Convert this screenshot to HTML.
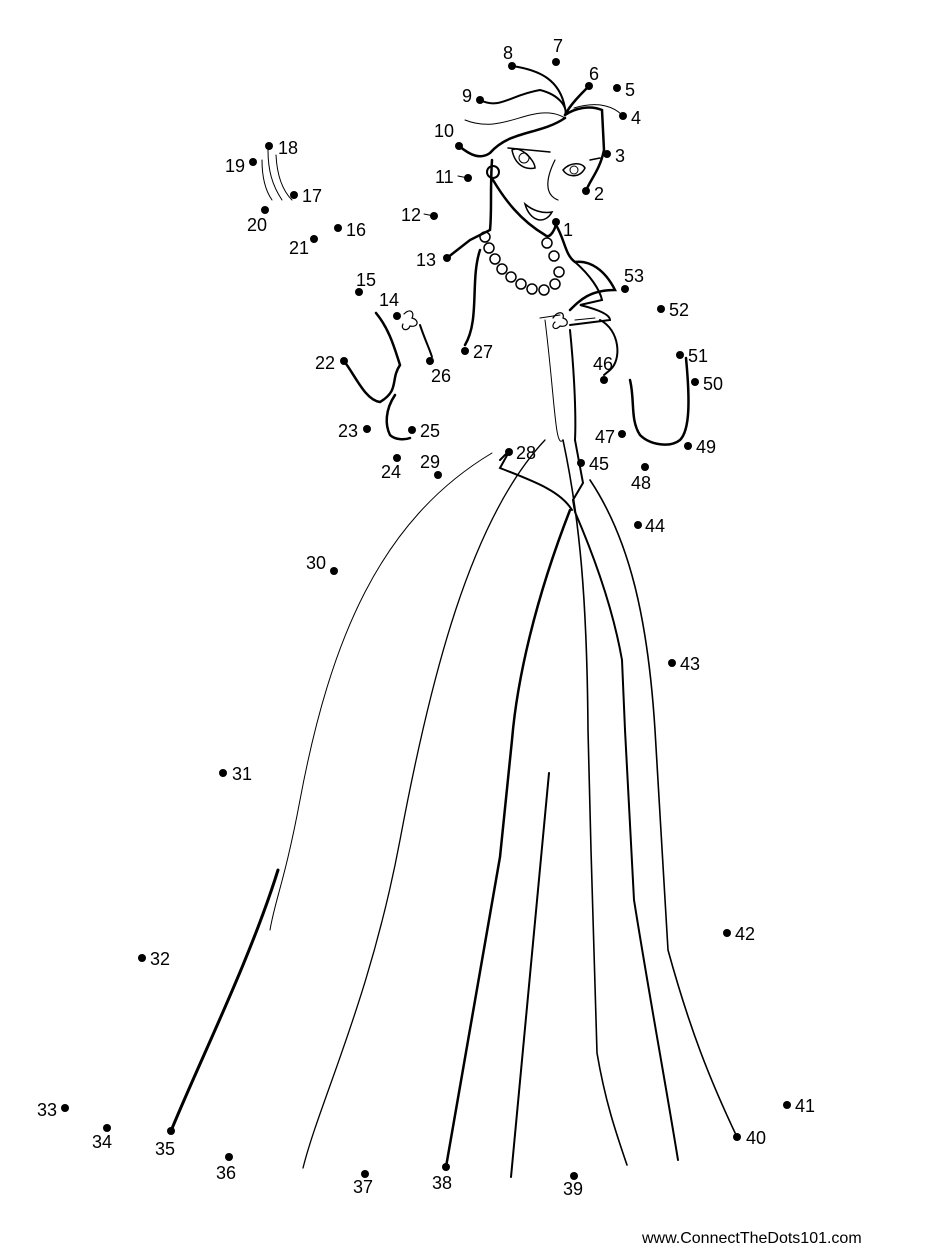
<!DOCTYPE html>
<html><head><meta charset="utf-8"><style>
html,body{margin:0;padding:0;background:#fff;width:927px;height:1250px;overflow:hidden}
svg text{font-family:"Liberation Sans",sans-serif;font-size:18px;fill:#000}
</style></head><body>
<svg width="927" height="1250" viewBox="0 0 927 1250" xmlns="http://www.w3.org/2000/svg">
<g fill="none" stroke="#000" stroke-linecap="round">
<!-- dress lines -->
<path d="M492 453 C380 520 330 640 300 800 C285 880 275 900 270 930" stroke-width="1"/>
<path d="M545 440 C470 520 430 680 400 840 C370 1000 320 1100 303 1168" stroke-width="1.3"/>
<path d="M570 510 C535 600 517 680 512 740 L500 857 L446 1167" stroke-width="2.5"/>
<path d="M549 773 L511 1177" stroke-width="2"/>
<path d="M563 440 C580 520 587 600 588 730 L591 850 L597 1053 C605 1100 615 1130 627 1165" stroke-width="1.6"/>
<path d="M575 440 L583 483 L573 500 L575 512 C600 570 615 620 622 660 L625 730 L634 900 C650 1000 665 1080 678 1160" stroke-width="2"/>
<path d="M590 480 C630 540 648 620 655 730 L668 950 C690 1030 710 1080 737 1137" stroke-width="1.6"/>
<path d="M545 320 C555 400 555 450 563 440" stroke-width="1"/>
<path d="M570 330 C575 380 576 420 575 440" stroke-width="2"/>
<!-- thick dress line left -->
<path d="M171 1131 C200 1060 250 960 278 870" stroke-width="3"/>
<path d="M500 460 L510 450 L500 468 C530 480 560 490 572 510" stroke-width="2"/>
<!-- head -->
<path d="M512 66 C540 70 560 80 565 108" stroke-width="2"/>
<path d="M480 100 C500 110 510 95 540 90 C560 95 568 108 565 115" stroke-width="2"/>
<path d="M589 86 C580 95 570 105 565 115" stroke-width="2.5"/>
<path d="M565 115 C575 108 590 105 602 110 L604 150 C600 170 590 180 586 191" stroke-width="2.5"/>
<path d="M574 108 C600 100 615 108 622 115" stroke-width="1"/>
<path d="M465 120 C490 130 510 120 530 115 C550 110 560 115 565 118" stroke-width="1"/>
<path d="M459 146 C470 155 480 160 490 153 C510 130 540 135 565 118" stroke-width="2.5"/>
<path d="M492 160 C490 190 492 210 490 230 L470 240 L447 258" stroke-width="2.5"/>
<path d="M493 180 C505 200 520 220 545 235 C550 240 556 228 556 222" stroke-width="2.5"/>
<path d="M508 148 L550 152 M590 160 L600 158" stroke-width="1.5"/>
<path d="M512 150 C520 145 535 160 535 168 C525 170 515 165 512 150Z" stroke-width="1.5"/>
<circle cx="524" cy="158" r="5" stroke-width="1"/>
<path d="M563 170 C570 162 582 162 585 168 C580 178 568 178 563 170Z" stroke-width="1.5"/>
<circle cx="574" cy="170" r="4" stroke-width="1"/>
<path d="M555 160 C545 180 545 195 558 200" stroke-width="1.2"/>
<path d="M525 204 C532 210 542 214 552 212 C545 225 530 222 525 204Z" stroke-width="1.5"/>
<circle cx="493" cy="172" r="6" stroke-width="2"/>
<!-- necklace -->
<g stroke-width="1.5">
<circle cx="485" cy="237" r="5"/><circle cx="489" cy="248" r="5"/><circle cx="495" cy="259" r="5"/><circle cx="502" cy="269" r="5"/><circle cx="511" cy="277" r="5"/><circle cx="521" cy="284" r="5"/><circle cx="532" cy="289" r="5"/><circle cx="544" cy="290" r="5"/><circle cx="555" cy="284" r="5"/><circle cx="559" cy="272" r="5"/><circle cx="554" cy="256" r="5"/><circle cx="547" cy="243" r="5"/>
</g>
<path d="M556 225 C565 240 565 255 575 262 C590 260 605 270 615 290 C590 290 580 300 570 310" stroke-width="2.5"/>
<path d="M575 262 C590 275 600 290 602 300 L580 305 C600 310 610 315 610 320 L570 325" stroke-width="2"/>
<path d="M600 320 C620 330 622 360 610 370 L604 375" stroke-width="2"/>
<path d="M480 250 C470 280 480 320 465 345" stroke-width="2.5"/>
<path d="M540 318 L560 315 M575 320 L595 318" stroke-width="1"/>
<!-- right arm -->
<path d="M686 358 C690 400 690 430 680 440 C670 448 650 445 640 435 C630 420 635 400 630 380" stroke-width="2.5"/>
<!-- left arm -->
<path d="M376 313 C390 330 395 350 400 365 C390 380 400 390 380 402 C365 400 355 375 344 361" stroke-width="2.5"/>
<path d="M395 395 C385 410 385 425 390 435 C395 440 405 440 410 438" stroke-width="2.5"/>
<path d="M420 325 C425 340 430 350 432 357" stroke-width="2"/>
<path d="M404 314 C410 308 415 312 412 318 C420 320 418 328 410 326 C408 332 400 330 403 324" stroke-width="1.2"/>
<path d="M553 318 C558 310 565 312 563 318 C570 320 568 328 560 326 C555 332 550 326 555 322" stroke-width="1.2"/>
<path d="M262 160 C262 175 265 190 272 200 M268 150 C268 170 272 185 282 200 M276 155 C277 175 282 190 292 200" stroke-width="1"/>
<path d="M424 214 L434 216 M468 178 L458 176" stroke-width="1"/>
</g>
<g fill="#000">
<circle cx="556" cy="222" r="4"/><circle cx="586" cy="191" r="4"/><circle cx="607" cy="154" r="4"/><circle cx="623" cy="116" r="4"/><circle cx="617" cy="88" r="4"/><circle cx="589" cy="86" r="4"/><circle cx="556" cy="62" r="4"/><circle cx="512" cy="66" r="4"/><circle cx="480" cy="100" r="4"/><circle cx="459" cy="146" r="4"/><circle cx="468" cy="178" r="4"/><circle cx="434" cy="216" r="4"/><circle cx="447" cy="258" r="4"/><circle cx="397" cy="316" r="4"/><circle cx="359" cy="292" r="4"/><circle cx="338" cy="228" r="4"/><circle cx="294" cy="195" r="4"/><circle cx="269" cy="146" r="4"/><circle cx="253" cy="162" r="4"/><circle cx="265" cy="210" r="4"/><circle cx="314" cy="239" r="4"/><circle cx="344" cy="361" r="4"/><circle cx="367" cy="429" r="4"/><circle cx="397" cy="458" r="4"/><circle cx="412" cy="430" r="4"/><circle cx="430" cy="361" r="4"/><circle cx="465" cy="351" r="4"/><circle cx="509" cy="452" r="4"/><circle cx="438" cy="475" r="4"/><circle cx="334" cy="571" r="4"/><circle cx="223" cy="773" r="4"/><circle cx="142" cy="958" r="4"/><circle cx="65" cy="1108" r="4"/><circle cx="107" cy="1128" r="4"/><circle cx="171" cy="1131" r="4"/><circle cx="229" cy="1157" r="4"/><circle cx="365" cy="1174" r="4"/><circle cx="446" cy="1167" r="4"/><circle cx="574" cy="1176" r="4"/><circle cx="737" cy="1137" r="4"/><circle cx="787" cy="1105" r="4"/><circle cx="727" cy="933" r="4"/><circle cx="672" cy="663" r="4"/><circle cx="638" cy="525" r="4"/><circle cx="581" cy="463" r="4"/><circle cx="604" cy="380" r="4"/><circle cx="622" cy="434" r="4"/><circle cx="645" cy="467" r="4"/><circle cx="688" cy="446" r="4"/><circle cx="695" cy="382" r="4"/><circle cx="680" cy="355" r="4"/><circle cx="661" cy="309" r="4"/><circle cx="625" cy="289" r="4"/>
</g>
<g>
<text x="563" y="236">1</text><text x="594" y="200">2</text><text x="615" y="162">3</text><text x="631" y="124">4</text><text x="625" y="96">5</text><text x="589" y="80">6</text><text x="553" y="52">7</text><text x="503" y="59">8</text><text x="462" y="102">9</text><text x="434" y="137">10</text><text x="435" y="183">11</text><text x="401" y="221">12</text><text x="416" y="266">13</text><text x="379" y="306">14</text><text x="356" y="286">15</text><text x="346" y="236">16</text><text x="302" y="202">17</text><text x="278" y="154">18</text><text x="225" y="172">19</text><text x="247" y="231">20</text><text x="289" y="254">21</text><text x="315" y="369">22</text><text x="338" y="437">23</text><text x="381" y="478">24</text><text x="420" y="437">25</text><text x="431" y="382">26</text><text x="473" y="358">27</text><text x="516" y="459">28</text><text x="420" y="468">29</text><text x="306" y="569">30</text><text x="232" y="780">31</text><text x="150" y="965">32</text><text x="37" y="1116">33</text><text x="92" y="1148">34</text><text x="155" y="1155">35</text><text x="216" y="1179">36</text><text x="353" y="1193">37</text><text x="432" y="1189">38</text><text x="563" y="1195">39</text><text x="746" y="1144">40</text><text x="795" y="1112">41</text><text x="735" y="940">42</text><text x="680" y="670">43</text><text x="645" y="532">44</text><text x="589" y="470">45</text><text x="593" y="370">46</text><text x="595" y="443">47</text><text x="631" y="489">48</text><text x="696" y="453">49</text><text x="703" y="390">50</text><text x="688" y="362">51</text><text x="669" y="316">52</text><text x="624" y="282">53</text>
<text x="642" y="1243" style="font-size:16px">www.ConnectTheDots101.com</text>
</g>
</svg>
</body></html>
